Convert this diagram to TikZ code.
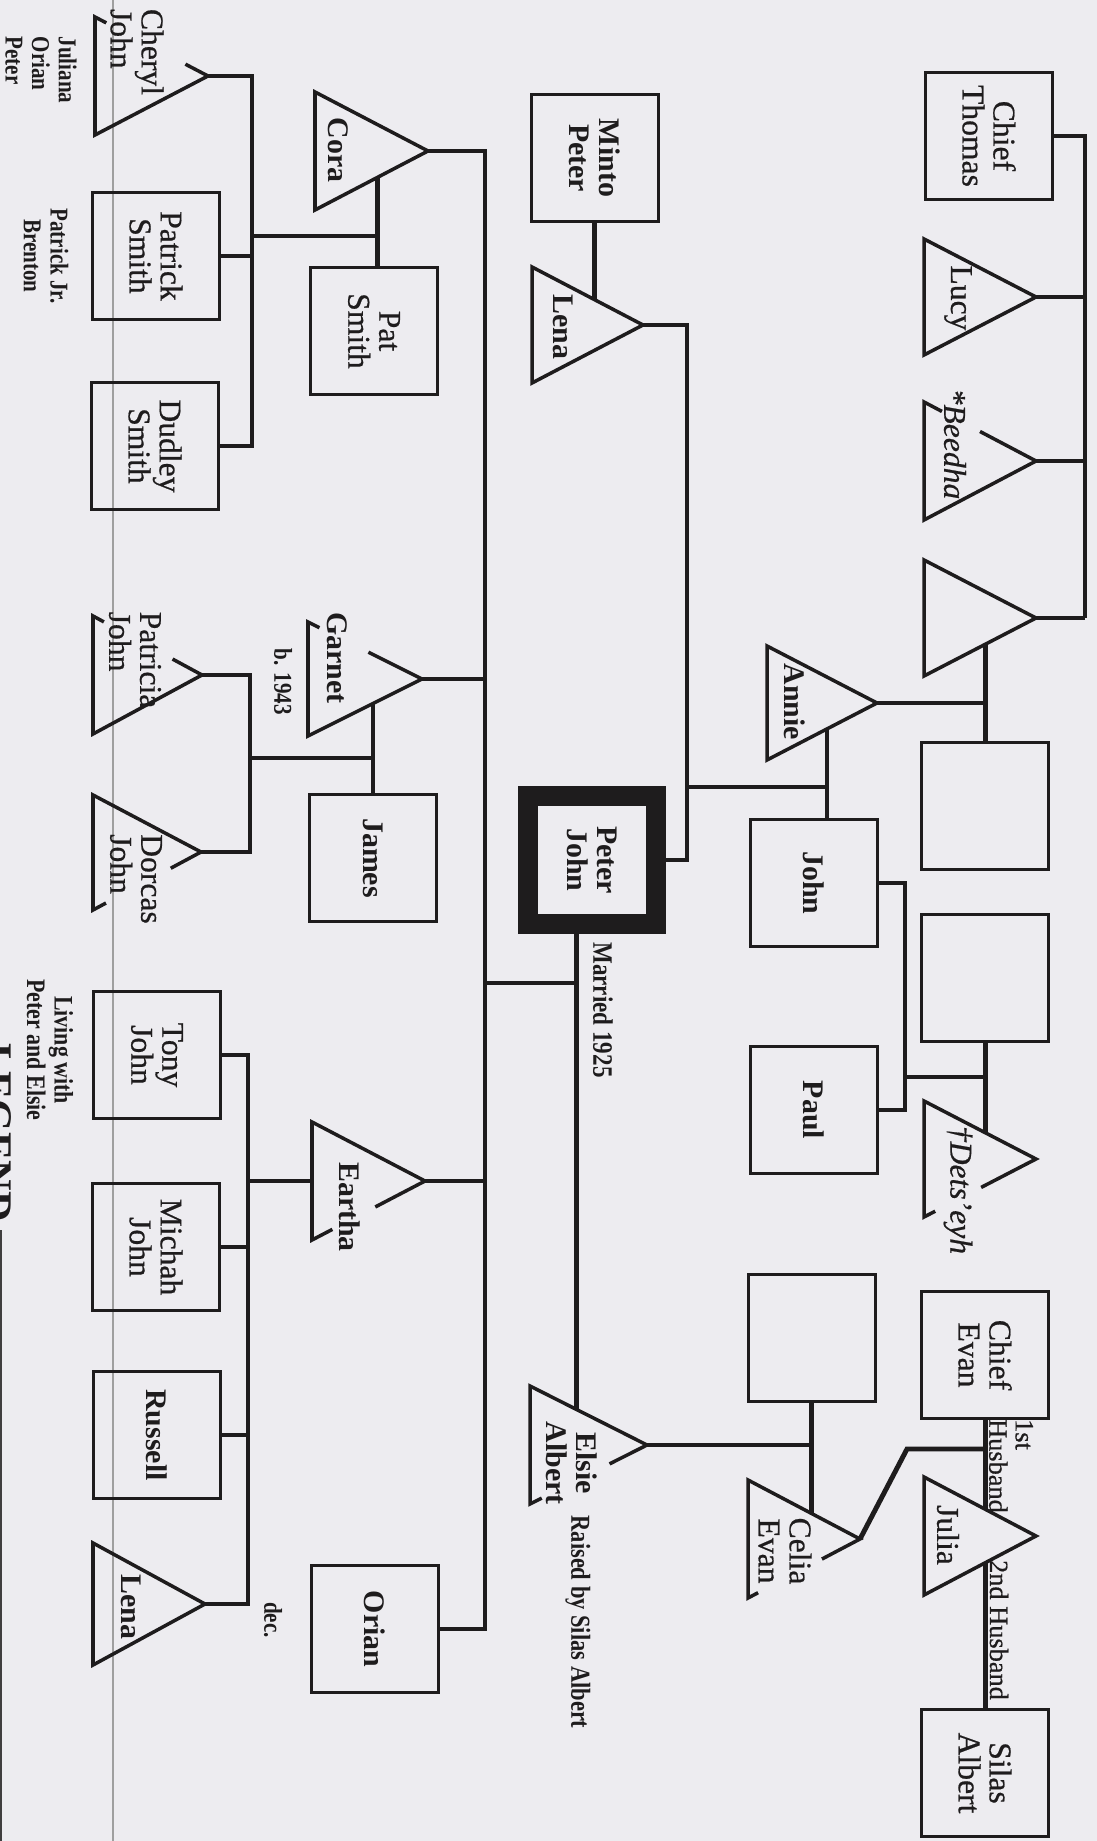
\documentclass[tikz,border=0pt]{standalone}
\usepackage{fontspec}
\setmainfont{Liberation Serif}
\newfontfamily\inkserif{Liberation Serif}[FakeBold=0.6]
\newfontfamily\narrowserif{Liberation Serif}[FakeStretch=0.82]
\usetikzlibrary{calc}
\definecolor{paper}{RGB}{237,236,240}
\definecolor{ink}{RGB}{30,28,29}
\begin{document}
\begin{tikzpicture}[x=0.1mm, y=-0.1mm,
  box/.style={draw=ink, line width=1pt, minimum size=12.7mm, inner sep=1pt, rotate=-90, align=center, text=ink, font=\inkserif\fontsize{9}{8.8}\selectfont},
  heavy/.style={box, line width=2mm, minimum size=12.8mm},
  lbl/.style={rotate=-90, align=center, inner sep=0pt, text=ink, font=\inkserif\fontsize{9}{8.8}\selectfont},
  bold/.style={font=\bfseries\fontsize{8.5}{8.5}\selectfont},
  slant/.style={font=\inkserif\itshape\fontsize{9}{9}\selectfont},
  note/.style={lbl, font=\narrowserif\bfseries\fontsize{7.3}{7.6}\selectfont},
  tri/.style={draw=ink, line width=1pt, line join=miter},
  link/.style={draw=ink, line width=1.4pt}]
\fill[paper] (0,0) rectangle (1097,1841);
\useasboundingbox (0,0) rectangle (1097,1841);
\draw[gray!75, line width=0.4pt] (113,0) -- (113,1841);
\draw[ink!85, line width=0.8pt] (0.5,1230) -- (0.5,1841);
\node[box] (thomas) at (989,136) {Chief\\Thomas};
\coordinate (lucy1) at (924,239); \coordinate (lucy) at (1036,297); \coordinate (lucy2) at (924,355);
\draw[tri] (lucy1) -- (lucy) -- (lucy2) -- cycle;
\node[lbl] (lucyname) at (958,298) {Lucy};
\coordinate (beedha1) at (924,402); \coordinate (beedha) at (1036,461); \coordinate (beedha2) at (924,520);
\draw[tri] ($(beedha1)!0.16!(beedha)$) -- (beedha1) -- (beedha2) -- (beedha) -- ($(beedha)!0.5!(beedha1)$);
\node[lbl, slant] (beedhaname) at (955,444) {*Beedha};
\coordinate (annieMo1) at (924,560); \coordinate (annieMo) at (1036,618); \coordinate (annieMo2) at (924,676);
\draw[tri] (annieMo1) -- (annieMo) -- (annieMo2) -- cycle;
\coordinate (thomasbar) at (1085,618);
\draw[link] (thomas.north) -| (thomasbar);
\draw[link] (lucy) -- (lucy -| thomasbar);
\draw[link] (beedha) -- (beedha -| thomasbar);
\draw[link] (annieMo) -- (thomasbar);
\node[box] (annieFa) at (985,806) {};
\coordinate (annieMoLow) at ($(annieMo2)!0.545!(annieMo)$);
\draw[link] (annieMoLow) -- (annieMoLow |- annieFa.west);
\node[box] (johnFa) at (985,978) {};
\coordinate (detseyh1) at (924,1101); \coordinate (detseyh) at (1036,1159); \coordinate (detseyh2) at (924,1217);
\draw[tri] ($(detseyh2)!0.1!(detseyh)$) -- (detseyh2) -- (detseyh1) -- (detseyh) -- ($(detseyh)!0.49!(detseyh2)$);
\node[lbl, slant] (detseyhname) at (958,1190) {†Dets’eyh};
\coordinate (detseyhUp) at ($(detseyh1)!0.545!(detseyh)$);
\draw[link] (detseyhUp |- johnFa.east) -- (detseyhUp);
\node[box] (evan) at (985,1355) {Chief\\Evan};
\coordinate (julia1) at (924,1477); \coordinate (julia) at (1036,1536); \coordinate (julia2) at (924,1595);
\draw[tri] (julia1) -- (julia) -- (julia2) -- cycle;
\node[lbl] (julianame) at (948,1535) {Julia};
\node[box] (silas) at (985,1773) {Silas\\Albert};
\coordinate (juliaUp) at ($(julia1)!0.545!(julia)$);
\coordinate (juliaLow) at ($(julia2)!0.545!(julia)$);
\draw[link] (juliaUp |- evan.east) -- (juliaUp);
\draw[link] (juliaLow) -- (juliaLow |- silas.west);
\node[lbl, align=left, font=\inkserif\fontsize{7.5}{7.5}\selectfont] (first) at (1011,1466) {1st\\Husband};
\node[lbl, font=\inkserif\fontsize{7.5}{7.5}\selectfont] (second) at (999,1630) {2nd Husband};
\node[box, bold] (minto) at (595,158) {Minto\\Peter};
\coordinate (lenaA1) at (532,267); \coordinate (lenaA) at (643,325); \coordinate (lenaA2) at (532,383);
\draw[tri] (lenaA1) -- (lenaA) -- (lenaA2) -- cycle;
\node[lbl, bold] (lenaAname) at (563,327) {Lena};
\coordinate (lenaAUp) at ($(lenaA1)!0.56!(lenaA)$);
\draw[link] (lenaAUp |- minto.east) -- (lenaAUp);
\coordinate (annie1) at (767,646); \coordinate (annie) at (877,703); \coordinate (annie2) at (767,760);
\draw[tri] (annie1) -- (annie) -- (annie2) -- cycle;
\node[lbl, bold] (anniename) at (795,702) {Annie};
\draw[link] (annie) -- (annie -| annieMoLow);
\node[box, bold] (john) at (814,883) {John};
\node[box, bold] (paul) at (814,1110) {Paul};
\coordinate (annieLow) at ($(annie2)!0.545!(annie)$);
\draw[link] (annieLow) -- (annieLow |- john.west);
\coordinate (johnkids) at (905,1077);
\draw[link] (johnkids) -- (johnkids -| detseyhUp);
\draw[link] (john.north) -| (johnkids) |- (paul.north);
\node[heavy, bold] (peter) at (592,860) {Peter\\John};
\coordinate (peterbar) at (687,787);
\coordinate (anniejohn) at (annieLow |- peterbar);
\draw[link] (lenaA) -| (peterbar) |- (peter.north);
\draw[link] (anniejohn) -- (peterbar);
\node[note, font=\narrowserif\bfseries\fontsize{8}{8}\selectfont] (married) at (603,1010) {Married 1925};
\coordinate (elsie1) at (530,1386); \coordinate (elsie) at (647,1445); \coordinate (elsie2) at (530,1504);
\draw[tri] ($(elsie2)!0.1!(elsie)$) -- (elsie2) -- (elsie1) -- (elsie) -- ($(elsie)!0.32!(elsie2)$);
\node[lbl, bold] (elsiename) at (572,1463) {Elsie\\Albert};
\coordinate (elsieUp) at ($(elsie1)!0.4!(elsie)$);
\draw[link] (elsieUp |- peter.east) -- (elsieUp);
\node[note, font=\narrowserif\bfseries\fontsize{7.8}{7.8}\selectfont] (raised) at (578,1622) {Raised by Silas Albert};
\node[box] (elsieFa) at (812,1338) {};
\coordinate (celia1) at (748,1480); \coordinate (celia) at (860,1539); \coordinate (celia2) at (748,1598);
\draw[tri] ($(celia2)!0.09!(celia)$) -- (celia2) -- (celia1) -- (celia) -- ($(celia)!0.34!(celia2)$);
\node[lbl] (celianame) at (785,1551) {Celia\\Evan};
\coordinate (celiaUp) at ($(celia1)!0.57!(celia)$);
\draw[link] (celiaUp |- elsieFa.east) -- (celiaUp);
\draw[link] (elsie) -- (elsie -| celiaUp);
\coordinate (evanjulia) at (985,1449);
\coordinate (bend) at (907,1449);
\draw[link] (evanjulia) -- (bend) -- (celia);
\coordinate (cora1) at (315,92); \coordinate (cora) at (428,151); \coordinate (cora2) at (315,210);
\draw[tri] (cora1) -- (cora) -- (cora2) -- cycle;
\node[lbl, bold] (coraname) at (338,150) {Cora};
\node[box] (pat) at (374,331) {Pat\\Smith};
\coordinate (coraLow) at ($(cora2)!0.55!(cora)$);
\draw[link] (coraLow) -- (coraLow |- pat.west);
\coordinate (garnet1) at (308,622); \coordinate (garnet) at (422,679); \coordinate (garnet2) at (308,736);
\draw[tri] ($(garnet1)!0.1!(garnet)$) -- (garnet1) -- (garnet2) -- (garnet) -- ($(garnet)!0.47!(garnet1)$);
\node[lbl, bold] (garnetname) at (337,658) {Garnet};
\node[note] (born) at (283,682) {b. 1943};
\node[box, bold] (james) at (373,858) {James};
\coordinate (garnetLow) at ($(garnet2)!0.57!(garnet)$);
\draw[link] (garnetLow) -- (garnetLow |- james.west);
\coordinate (eartha1) at (312,1122); \coordinate (eartha) at (425,1181); \coordinate (eartha2) at (312,1240);
\draw[tri] ($(eartha2)!0.18!(eartha)$) -- (eartha2) -- (eartha1) -- (eartha) -- ($(eartha)!0.44!(eartha2)$);
\node[lbl, bold] (earthaname) at (350,1207) {Eartha};
\node[box, bold] (orian) at (375,1629) {Orian};
\node[note] (died) at (273,1620) {dec.};
\coordinate (kidsBot) at (485,1629);
\coordinate (kidsMid) at (485,983);
\draw[link] (cora) -| (kidsBot) -- (orian.north);
\draw[link] (garnet) -- (garnet -| kidsBot);
\draw[link] (eartha) -- (eartha -| kidsBot);
\draw[link] (kidsMid) -- (kidsMid -| elsieUp);
\coordinate (cheryl1) at (95,17); \coordinate (cheryl) at (208,76); \coordinate (cheryl2) at (95,135);
\draw[tri] ($(cheryl1)!0.1!(cheryl)$) -- (cheryl1) -- (cheryl2) -- (cheryl) -- ($(cheryl)!0.2!(cheryl1)$);
\node[lbl, align=left] (cherylname) at (137,52) {Cheryl\\John};
\node[box] (patrick) at (156,256) {Patrick\\Smith};
\node[box] (dudley) at (155,446) {Dudley\\Smith};
\coordinate (corabar) at (252,236);
\draw[link] (coraLow |- corabar) -- (corabar);
\draw[link] (cheryl) -| (corabar) |- (dudley.north);
\draw[link] (patrick.north) -- (patrick.north -| corabar);
\node[note, align=left] (grandkids) at (41,70) {Juliana\\Orian\\Peter};
\node[note] (patrickkids) at (46,256) {Patrick Jr.\\Brenton};
\coordinate (patricia1) at (93,616); \coordinate (patricia) at (202,675); \coordinate (patricia2) at (93,734);
\draw[tri] ($(patricia1)!0.1!(patricia)$) -- (patricia1) -- (patricia2) -- (patricia) -- ($(patricia)!0.27!(patricia1)$);
\node[lbl, align=left] (patricianame) at (135,660) {Patricia\\John};
\coordinate (dorcas1) at (93,795); \coordinate (dorcas) at (201,852); \coordinate (dorcas2) at (93,910);
\draw[tri] ($(dorcas2)!0.12!(dorcas)$) -- (dorcas2) -- (dorcas1) -- (dorcas) -- ($(dorcas)!0.28!(dorcas2)$);
\node[lbl, align=left] (dorcasname) at (136,879) {Dorcas\\John};
\coordinate (garnetbar) at (250,758);
\draw[link] (garnetLow |- garnetbar) -- (garnetbar);
\draw[link] (patricia) -| (garnetbar) |- (dorcas);
\node[box] (tony) at (157,1055) {Tony\\John};
\node[box] (michah) at (156,1247) {Michah\\John};
\node[box, bold] (russell) at (157,1435) {Russell};
\coordinate (lenaB1) at (93,1543); \coordinate (lenaB) at (205,1604); \coordinate (lenaB2) at (93,1665);
\draw[tri] (lenaB1) -- (lenaB) -- (lenaB2) -- cycle;
\node[lbl, bold] (lenaBname) at (131,1607) {Lena};
\coordinate (earthaBase) at ($(eartha1)!0.5!(eartha2)$);
\coordinate (earthabar) at (248,1181);
\draw[link] (earthaBase) -- (earthabar);
\draw[link] (tony.north) -| (earthabar) |- (lenaB);
\draw[link] (michah.north) -- (michah.north -| earthabar);
\draw[link] (russell.north) -- (russell.north -| earthabar);
\node[note, font=\narrowserif\bfseries\fontsize{7.6}{7.8}\selectfont] (living) at (50,1050) {Living with\\Peter and Elsie};
\node[lbl, anchor=base west, font=\bfseries\fontsize{12}{12}\selectfont] (legend) at (-16,1043) {LEGEND};
\end{tikzpicture}
\end{document}
